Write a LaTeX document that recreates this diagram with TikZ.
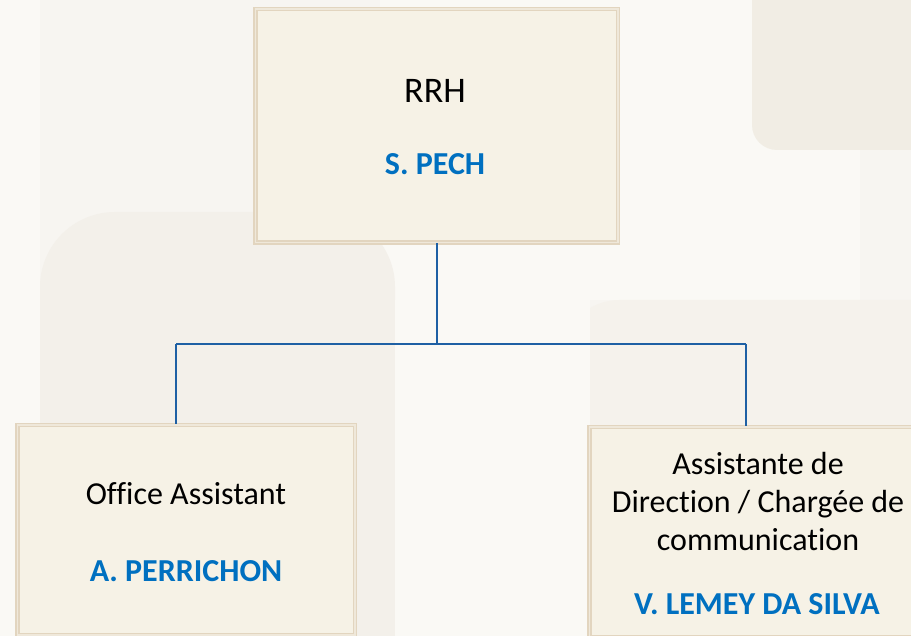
\documentclass[tikz,border=0pt]{standalone}
\usepackage{fontspec}
\setmainfont{Carlito}[Ligatures={NoCommon}]
\definecolor{bgbase}{HTML}{F7F5F1}
\definecolor{bgdark}{HTML}{F3F0EA}
\definecolor{bgdarker}{HTML}{F1EDE4}
\definecolor{bglight}{HTML}{FAF9F5}
\definecolor{bgmid}{HTML}{F5F2EC}
\definecolor{boxfill}{HTML}{F6F2E6}
\definecolor{boxedge}{HTML}{E2D5BF}
\definecolor{boxinner}{HTML}{EFE8DA}
\definecolor{connblue}{RGB}{30,96,164}
\definecolor{nameblue}{HTML}{0070C0}
\tikzset{
  orgbox/.style={draw=boxedge, line width=1.5pt, double=boxinner, double distance=1.5pt,
    fill=boxfill, rectangle, inner sep=0pt},
  conn/.style={draw=connblue, line width=2pt},
  roletext/.style={anchor=base, inner sep=0pt, font=\fontsize{32}{38.5}\selectfont, text=black},
  nametext/.style={anchor=base, inner sep=0pt, font=\fontsize{32}{38.5}\selectfont\bfseries, text=nameblue}
}
\begin{document}
\begin{tikzpicture}[x=1pt,y=-1pt]
\useasboundingbox (0,0) rectangle (911,636);
\clip (0,0) rectangle (911,636);
% background
\fill[bgbase] (0,0) rectangle (911,636);
\fill[bglight] (0,0) rectangle (40,636);
\fill[bglight] (380,0) rectangle (860,300);
\fill[bgdark, rounded corners=75pt] (40,212) rectangle (395,720);
\fill[bgmid, rounded corners=60pt] (560,300) rectangle (980,720);
\fill[bglight] (395,300) rectangle (590,720);
\fill[bgdarker, rounded corners=25pt] (752,-60) rectangle (980,150);
% boxes
\node[orgbox, minimum width=362.5pt, minimum height=233.5pt] (top) at (436.5,126) {};
\node[orgbox, minimum width=337.5pt, minimum height=209.5pt] (left) at (186,530) {};
\node[orgbox, minimum width=337.5pt, minimum height=209.5pt] (right) at (758,532) {};
% texts
\node[roletext, font=\fontsize{36}{42}\selectfont] (toprole) at (435,103) {RRH};
\node[nametext] (topname) at (435,175) {S. PECH};
\node[roletext] (leftrole) at (186,504) {Office Assistant};
\node[nametext] (leftname) at (186,581) {A. PERRICHON};
\node[roletext] (rightrole) at (758,474) {\begin{tabular}[t]{@{}c@{}}Assistante de\\Direction / Chargée de\\communication\end{tabular}};
\node[nametext] (rightname) at (757,614) {V. LEMEY DA SILVA};
% connectors
\coordinate (junc) at (436.5,344);
\coordinate (barl) at (176,344);
\coordinate (barr) at (746,344);
\draw[conn] (top.south) -- (junc);
\draw[conn] (barl) -- (barr);
\draw[conn] (barl) -- (barl |- left.north);
\draw[conn] (barr) -- (barr |- right.north);
\end{tikzpicture}
\end{document}
